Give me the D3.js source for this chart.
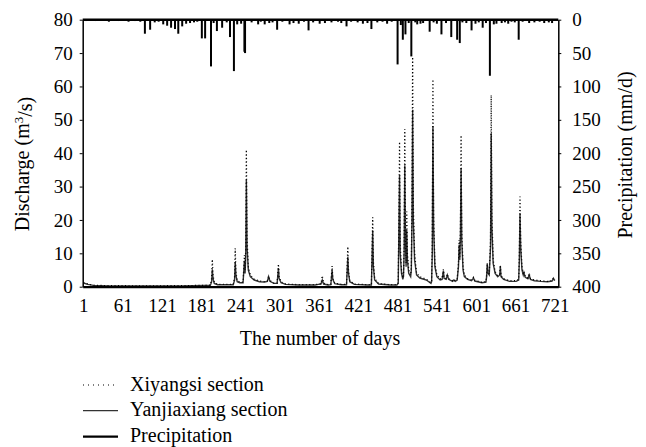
<!DOCTYPE html>
<html>
<head>
<meta charset="utf-8">
<script src="https://cdn.jsdelivr.net/npm/d3@7"></script>
<style>
  body { margin: 0; background: #fff; }
  svg text { font-family: "Liberation Serif", "DejaVu Serif", serif; fill: #000; }
</style>
</head>
<body>
<svg id="chart" width="646" height="447"></svg>
<script>
// Day ticks on the x axis
var dayTicks = [1, 61, 121, 181, 241, 301, 361, 421, 481, 541, 601, 661, 721];
var dischargeTicks = [0, 10, 20, 30, 40, 50, 60, 70, 80];
var precipTicks = [0, 50, 100, 150, 200, 250, 300, 350, 400];

// Yanjiaxiang section discharge, [day, m3/s]
var yanjiaxiang = [
  [1,1.1],[8,0.7],[16,0.4],[40,0.25],[100,0.2],[150,0.25],[185,0.35],
  [195,0.4],[197,1.5],[198,5.2],[199,2.5],[201,1.0],[206,0.6],
  [230,0.6],[232,2],[233,7.4],[234,3.5],[236,1.5],[240,1.2],
  [245,1.2],[247,7.8],[248,4],[249,8.5],[250,32],[251,12],[253,5],[256,3],[262,2],[270,1.5],[278,1.4],
  [282,1.6],[284,3],[286,1.6],[292,1.0],
  [297,1.0],[299,5.6],[300,2.5],[303,1.2],[310,0.7],[330,0.5],[355,0.5],[360,0.7],
  [364,0.8],[366,2.0],[368,0.8],[375,0.5],
  [379,0.6],[381,5],[382,2.2],[385,0.9],[395,0.6],
  [403,0.6],[405,9],[406,4],[408,1.5],[415,0.7],[435,0.5],
  [441,0.5],[443,16.8],[444,6],[446,2],[452,0.8],[470,0.5],[480,0.5],
  [482,1],[484,33.4],[485,10],[487,4],[489,2.2],[490,3],
  [491,10],[492,36.4],[493,14],[494,6],[495,17],[496,8],[498,4],[501,3],
  [502,5],[503,20],[504,53],[505,20],[507,8],[510,3.5],[515,2.6],[525,2],[532,1.0],[533,1.5],
  [534,10],[535,48],[536,18],[538,6],[541,3],[546,2],[549,2.2],[551,4.8],[552,2.5],[555,2.2],[557,3.5],[559,2.2],
  [565,1.6],[567,2],[569,1.6],[572,2],[574,6],[575,12.5],[576,8],[577,15],[578,35.5],[579,14],[581,5],[583,3],
  [588,2.2],[594,1.8],[597,2.6],[599,1.7],[610,1.2],[616,1.4],[617,3],[618,7],[619,4],[621,3.5],
  [623,12],[624,46],[625,18],[627,7],[630,4],[634,3],[637,3.5],[638,6],[639,3],[643,2.2],[652,1.6],[662,1.6],[666,2],
  [667,8],[668,22],[669,12],[671,5],[673,3.5],[674,4.2],[676,2.8],[680,2.4],[682,3.5],[684,2.2],
  [690,1.8],[700,1.6],[710,1.5],[717,1.7],[719,2.5],[721,1.8]
];

// Xiyangsi section discharge, [day, m3/s]
var xiyangsi = [
  [1,1.2],[8,0.8],[16,0.45],[40,0.3],[100,0.25],[150,0.3],[185,0.4],
  [195,0.5],[197,2.5],[198,8.2],[199,3.5],[201,1.3],[206,0.7],
  [230,0.7],[232,3],[233,11.5],[234,4.5],[236,1.8],[240,1.4],
  [245,1.4],[247,9.5],[248,5],[249,11],[250,41],[251,15],[253,6],[256,3.5],[262,2.2],[270,1.7],[278,1.5],
  [282,1.8],[284,3.2],[286,1.8],[292,1.1],
  [297,1.1],[299,6.8],[300,3],[303,1.4],[310,0.8],[330,0.6],[355,0.6],[360,0.8],
  [364,0.9],[366,3.3],[368,1],[375,0.6],
  [379,0.7],[381,6.2],[382,2.6],[385,1],[395,0.7],
  [403,0.7],[405,12],[406,5],[408,1.8],[415,0.8],[435,0.6],
  [441,0.6],[443,20.8],[444,7.5],[446,2.5],[452,0.9],[470,0.6],[480,0.6],
  [482,1.2],[484,43.4],[485,13],[487,5],[489,2.6],[490,3.5],
  [491,12],[492,47.2],[493,17],[494,7],[495,22.5],[496,10],[498,5],[501,3.5],
  [502,6],[503,26],[504,68.8],[505,25],[507,10],[510,4],[515,3],[525,2.2],[532,1.2],[533,1.8],
  [534,13],[535,62.1],[536,22],[538,7],[541,3.5],[546,2.3],[549,2.5],[551,5.2],[552,2.8],[555,2.4],[557,3.8],[559,2.4],
  [565,1.8],[567,2.2],[569,1.8],[572,2.2],[574,7],[575,14],[576,9],[577,18],[578,45.4],[579,17],[581,6],[583,3.5],
  [588,2.4],[594,2],[597,2.8],[599,1.9],[610,1.3],[616,1.5],[617,3.5],[618,6.7],[619,4.5],[621,3.8],
  [623,14],[624,57.4],[625,22],[627,8],[630,4.5],[634,3.2],[637,3.8],[638,6.5],[639,3.3],[643,2.4],[652,1.8],[662,1.8],[666,2.2],
  [667,10],[668,27],[669,14],[671,6],[673,3.8],[674,4.5],[676,3],[680,2.6],[682,4],[684,2.4],
  [690,2],[700,1.8],[710,1.6],[717,1.8],[719,2.6],[721,2]
];

// Daily precipitation, [day, mm/d]
var precipitation = [
  [5,2],[12,1],[20,2],[28,1],[40,3],[55,2],[62,1],[70,3],[80,2],[88,3],
  [95,21],[103,15],[110,4],[116,3],[123,7],[129,9],[135,12],[141,14],[146,21],[152,10],[158,6],[164,5],
  [170,4],[175,3],[182,28],[187,28],[196,70],[200,5],[205,17],[213,12],[220,4],[225,26],[231,77],[236,7],
  [242,6],[247,48],[248,50],[258,4],[268,7],[272,3],[278,7],[285,5],[290,4],[297,15],[305,3],[316,7],
  [322,5],[330,6],[338,3],[345,16],[352,4],[362,6],[370,5],[380,4],[390,3],[395,5],[403,10],[410,3],
  [420,4],[428,6],[435,5],[441,14],[450,4],[458,3],[465,6],[472,3],[481,67],[486,8],[489,30],[493,22],
  [498,5],[502,55],[508,4],[511,7],[516,6],[520,5],[530,18],[536,4],[541,6],[548,22],[555,5],[563,26],
  [572,30],[576,35],[580,4],[586,5],[594,16],[600,6],[605,4],[611,12],[616,5],[622,84],[628,7],[632,6],
  [640,5],[645,4],[650,6],[655,3],[660,4],[666,30],[672,3],[682,5],[690,4],[698,3],[705,5],[712,4],[717,5]
];

var svg = d3.select("#chart");

// Plot area edges
var plotLeft = 82.7, plotRight = 558.3, plotTop = 19.7, plotBottom = 286.7;

var x = d3.scaleLinear().domain([0, 726.5]).range([plotLeft, plotRight]);
var yQ = d3.scaleLinear().domain([0, 80]).range([plotBottom, plotTop]);
var yP = d3.scaleLinear().domain([0, 400]).range([plotTop, plotBottom]);

// Precipitation bars hanging from the top
svg.append("g")
    .selectAll("line")
    .data(precipitation)
    .enter().append("line")
    .attr("x1", function (d) { return x(d[0]); })
    .attr("x2", function (d) { return x(d[0]); })
    .attr("y1", yP(0))
    .attr("y2", function (d) { return yP(d[1]); })
    .attr("stroke", "#000")
    .attr("stroke-width", 2);

var line = d3.line()
    .x(function (d) { return x(d[0]); })
    .y(function (d) { return yQ(d[1]); });

// Yanjiaxiang (solid grey)
svg.append("path")
    .datum(yanjiaxiang)
    .attr("d", line)
    .attr("fill", "none")
    .attr("stroke", "#333")
    .attr("stroke-width", 1.4);

// Xiyangsi (dotted)
svg.append("path")
    .datum(xiyangsi)
    .attr("d", line)
    .attr("fill", "none")
    .attr("stroke", "#000")
    .attr("stroke-width", 1.3)
    .attr("stroke-dasharray", "1,2.5");

// Axes
var xAxis = svg.append("g")
    .attr("transform", "translate(0," + plotBottom + ")")
    .call(d3.axisBottom(x).tickValues(dayTicks).tickSize(0).tickPadding(12).tickFormat(d3.format("d")));
xAxis.select(".domain").attr("stroke-width", 2.2);

svg.append("line")
    .attr("x1", plotLeft).attr("x2", plotRight)
    .attr("y1", plotTop).attr("y2", plotTop)
    .attr("stroke", "#000")
    .attr("stroke-width", 2.5);

var yAxisL = svg.append("g")
    .attr("transform", "translate(" + plotLeft + ",0)")
    .call(d3.axisLeft(yQ).tickValues(dischargeTicks).tickSize(3).tickPadding(7).tickSizeOuter(0));
yAxisL.select(".domain").attr("stroke-width", 1.5);

var yAxisR = svg.append("g")
    .attr("transform", "translate(" + plotRight + ",0)")
    .call(d3.axisRight(yP).tickValues(precipTicks).tickSize(3).tickPadding(11).tickSizeOuter(0));
yAxisR.select(".domain").attr("stroke-width", 1.5);

svg.selectAll("g").attr("font-family", null).attr("font-size", null);
svg.selectAll(".tick text").style("font-size", "19px");

// Axis titles
svg.append("text")
    .attr("x", 320)
    .attr("y", 345)
    .attr("text-anchor", "middle")
    .style("font-size", "20px")
    .text("The number of days");

var yl = svg.append("text")
    .attr("transform", "translate(29,164) rotate(-90)")
    .attr("text-anchor", "middle")
    .style("font-size", "20px");
yl.append("tspan").text("Discharge (m");
yl.append("tspan").attr("dy", "-0.45em").style("font-size", "13px").text("3");
yl.append("tspan").attr("dy", "0.45em").text("/s)");

svg.append("text")
    .attr("transform", "translate(632,155) rotate(-90)")
    .attr("text-anchor", "middle")
    .style("font-size", "20px")
    .text("Precipitation (mm/d)");

// Legend
var legendItems = ["Xiyangsi section", "Yanjiaxiang section", "Precipitation"];
var legendY = [385, 410.7, 436.7];
var legendStyle = [
  { stroke: "#000", width: 1.2, dash: "1,4" },
  { stroke: "#333", width: 1.3, dash: null },
  { stroke: "#000", width: 2.2, dash: null }
];

var legend = svg.append("g");
legendItems.forEach(function (name, i) {
    legend.append("line")
        .attr("x1", 83).attr("x2", 118)
        .attr("y1", legendY[i]).attr("y2", legendY[i])
        .attr("stroke", legendStyle[i].stroke)
        .attr("stroke-width", legendStyle[i].width)
        .attr("stroke-dasharray", legendStyle[i].dash);
    legend.append("text")
        .attr("x", 130)
        .attr("y", legendY[i] + 5.5)
        .style("font-size", "20px")
        .text(name);
});
</script>
</body>
</html>
